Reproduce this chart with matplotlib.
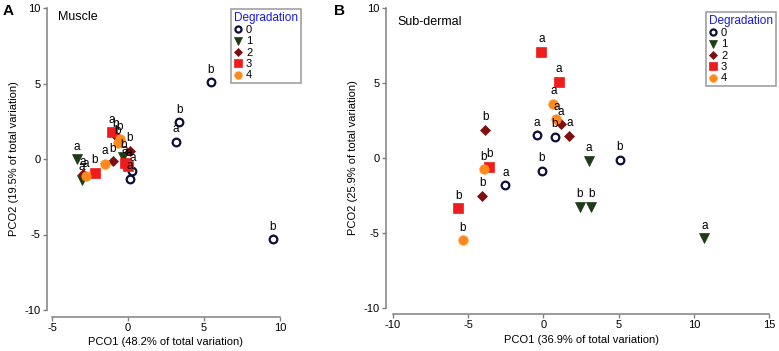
import matplotlib
matplotlib.use("Agg")
import matplotlib.pyplot as plt

plt.rcParams['font.family'] = ['Liberation Sans', 'DejaVu Sans']
plt.rcParams['axes.unicode_minus'] = False

# ---------------- Data ----------------
levels = ['0', '1', '2', '3', '4']

# Muscle
mus_x0 = [5.45, 3.37, 3.15, 9.52, 0.28, 0.13]
mus_y0 = [5.08, 2.43, 1.13, -5.32, -0.79, -1.32]
mus_l0 = ['b', 'b', 'a', 'b', 'a', 'a']
mus_x1 = [-3.38, -3.05, -0.31]
mus_y1 = [0.0, -1.39, 0.11]
mus_l1 = ['a', 'a', 'b']
mus_x2 = [-2.98, -1.0, -0.79, 0.13]
mus_y2 = [-1.0, -0.15, 1.52, 0.55]
mus_l2 = ['a', 'b', 'b', 'b']
mus_x3 = [-2.17, -1.07, -0.2, 0.02]
mus_y3 = [-0.9, 1.77, -0.24, -0.46]
mus_l3 = ['b', 'a', 'a', 'a']
mus_x4 = [-2.76, -1.51, -0.68, -0.53]
mus_y4 = [-1.13, -0.33, 1.04, 1.3]
mus_l4 = ['a', 'a', 'b', 'b']

# Sub-dermal
sub_x0 = [-0.44, 0.75, -0.11, -2.53, 5.08]
sub_y0 = [1.51, 1.42, -0.84, -1.8, -0.13]
sub_l0 = ['a', 'b', 'b', 'a', 'b']
sub_x1 = [3.02, 2.42, 3.17, 10.71]
sub_y1 = [-0.18, -3.24, -3.24, -5.36]
sub_l1 = ['a', 'b', 'b', 'a']
sub_x2 = [-3.88, -4.08, 1.18, 1.73]
sub_y2 = [1.89, -2.53, 2.24, 1.49]
sub_l2 = ['b', 'b', 'a', 'a']
sub_x3 = [-0.13, 1.02, -3.59, -5.65]
sub_y3 = [7.09, 5.09, -0.58, -3.36]
sub_l3 = ['a', 'a', 'b', 'b']
sub_x4 = [0.67, 0.86, -3.97, -5.37]
sub_y4 = [3.6, 2.58, -0.76, -5.47]
sub_l4 = ['a', 'a', 'b', 'b']

muscle = [(mus_x0, mus_y0, mus_l0), (mus_x1, mus_y1, mus_l1), (mus_x2, mus_y2, mus_l2),
          (mus_x3, mus_y3, mus_l3), (mus_x4, mus_y4, mus_l4)]
subderm = [(sub_x0, sub_y0, sub_l0), (sub_x1, sub_y1, sub_l1), (sub_x2, sub_y2, sub_l2),
           (sub_x3, sub_y3, sub_l3), (sub_x4, sub_y4, sub_l4)]

# ---------------- Styles ----------------
styles = [
    dict(marker='o', mfc='white', mec='#0d0d3a', mew=1.6, ms=5.5),
    dict(marker='v', mfc='#1d3b14', mec='#1d3b14', mew=0.5, ms=7),
    dict(marker='D', mfc='#7d0f0f', mec='#7d0f0f', mew=0.5, ms=5.5),
    dict(marker='s', mfc='#ee1c1c', mec='#ee1c1c', mew=0.5, ms=6.5),
    dict(marker='o', mfc='#ff8a1c', mec='#ff8a1c', mew=0.5, ms=6.8),
]

W, H = 779, 351
fig = plt.figure(figsize=(W / 100, H / 100), dpi=100)

gray = '#808080'


def make_axes(left, right, top, bottom):
    return fig.add_axes([left / W, 1 - bottom / H, (right - left) / W, (bottom - top) / H])


def style_axes(ax, xlim, xticks, xlabel, ylabel, left_out, bottom_out):
    ax.set_xlim(*xlim)
    ax.set_ylim(-10, 10)
    ax.set_xticks(xticks)
    ax.set_yticks([-10, -5, 0, 5, 10])
    for s in ['top', 'right']:
        ax.spines[s].set_visible(False)
    ax.spines['left'].set_position(('outward', left_out))
    ax.spines['bottom'].set_position(('outward', bottom_out))
    for s in ['left', 'bottom']:
        ax.spines[s].set_color(gray)
        ax.spines[s].set_linewidth(1.1)
    ax.tick_params(axis='both', colors=gray, labelcolor='black', length=3,
                   width=1.0, labelsize=8, pad=1.5)
    ax.set_xlabel(xlabel, fontsize=8, labelpad=3)
    ax.set_ylabel(ylabel, fontsize=8, labelpad=4)
    ax.patch.set_visible(False)


def draw(ax, data):
    handles = []
    for (xs, ys, ls), st in zip(data, styles):
        h, = ax.plot(xs, ys, linestyle='none', **st)
        handles.append(h)
        for x, y, l in zip(xs, ys, ls):
            ax.annotate(l, (x, y), xytext=(0, 9), textcoords='offset points',
                        ha='center', va='center', fontsize=8.5)
    return handles


def add_legend(ax, handles, x0, y0):
    leg = ax.legend(handles, levels, title='Degradation', loc='upper left',
                    bbox_to_anchor=(x0 / W, 1 - y0 / H), bbox_transform=fig.transFigure,
                    borderaxespad=0, fontsize=8, title_fontsize=8.5,
                    frameon=True, fancybox=False, labelspacing=0.12,
                    handlelength=0.8, handletextpad=0.3, borderpad=0.25,
                    alignment='left', markerscale=0.8)
    leg.get_title().set_color('#1a1ae6')
    fr = leg.get_frame()
    fr.set_edgecolor(gray)
    fr.set_linewidth(1.1)
    return leg


# Panel A
axA = make_axes(52, 280, 8, 310)
style_axes(axA, (-5, 10), [-5, 0, 5, 10], 'PCO1 (48.2% of total variation)',
           'PCO2 (19.5% of total variation)', 3.6, 5)
hA = draw(axA, muscle)
add_legend(axA, hA, 231, 9)
fig.text(58 / W, 1 - 11 / H, 'Muscle', fontsize=9, ha='left', va='top')
fig.text(3 / W, 1 - 4 / H, 'A', fontsize=11, fontweight='bold', ha='left', va='top')

# Panel B
axB = make_axes(393, 769, 8, 308)
style_axes(axB, (-10, 15), [-10, -5, 0, 5, 10, 15], 'PCO1 (36.9% of total variation)',
           'PCO2 (25.9% of total variation)', 5, 4.5)
hB = draw(axB, subderm)
add_legend(axB, hB, 706, 12)
fig.text(397 / W, 1 - 16 / H, 'Sub-dermal', fontsize=9, ha='left', va='top')
fig.text(334 / W, 1 - 4 / H, 'B', fontsize=11, fontweight='bold', ha='left', va='top')

fig.savefig('out.png', dpi=100)
